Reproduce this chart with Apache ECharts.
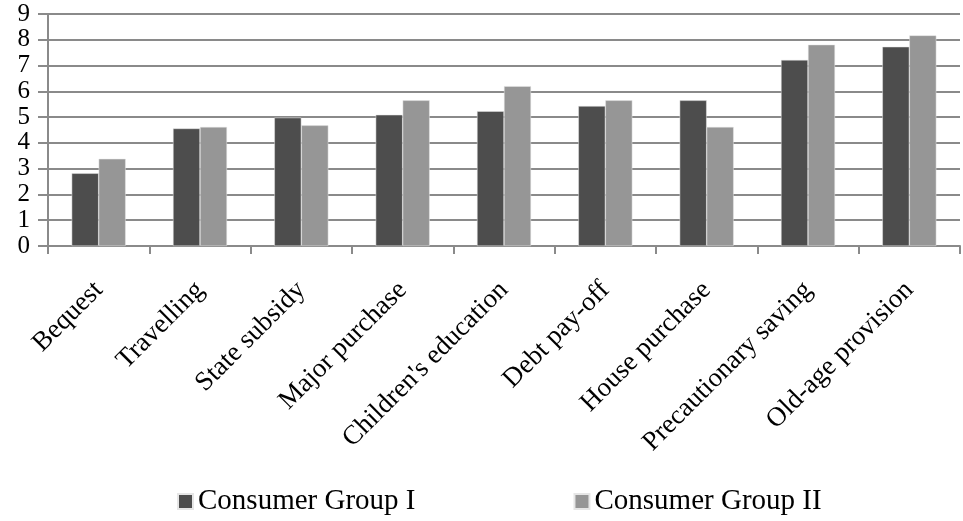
<!DOCTYPE html>
<html>
<head>
<meta charset="utf-8">
<script src="https://cdn.jsdelivr.net/npm/echarts@6/dist/echarts.min.js"></script>
<style>html,body{margin:0;padding:0;background:#fff;}#c{width:963px;height:521px;}</style>
</head>
<body>
<div id="c"></div>
<script>
const categories = ["Bequest","Travelling","State subsidy","Major purchase","Children's education","Debt pay-off","House purchase","Precautionary saving","Old-age provision"];
const groupI = [2.82, 4.56, 4.98, 5.09, 5.23, 5.43, 5.65, 7.22, 7.73];
const groupII = [3.38, 4.62, 4.68, 5.65, 6.2, 5.65, 4.62, 7.81, 8.17];
const seriesNames = ["Consumer Group I", "Consumer Group II"];
const yTicks = {min: 0, max: 9, interval: 1};

const font = "'Liberation Serif', 'Times New Roman', serif";
const chart = echarts.init(document.getElementById('c'), null, {renderer: 'canvas'});
chart.setOption({
  animation: false,
  backgroundColor: '#ffffff',
  textStyle: {fontFamily: font},
  grid: {left: 48, right: 3, top: 14, bottom: 275, containLabel: false},
  legend: {
    data: seriesNames,
    left: 172, top: 482,
    itemWidth: 15, itemHeight: 15, itemGap: 158,
    icon: 'rect',
    textStyle: {fontFamily: font, fontSize: 29, color: '#000'}
  },
  xAxis: {
    type: 'category',
    data: categories,
    axisLine: {lineStyle: {color: '#8a8a8a', width: 2}},
    axisTick: {show: true, length: 8, lineStyle: {color: '#8a8a8a', width: 2}},
    axisLabel: {rotate: 45, margin: 40, interval: 0, fontFamily: font, fontSize: 27, color: '#000'}
  },
  yAxis: {
    type: 'value',
    min: yTicks.min, max: yTicks.max, interval: yTicks.interval,
    axisLine: {show: true, lineStyle: {color: '#8a8a8a', width: 2}},
    axisTick: {show: true, length: 10, lineStyle: {color: '#8a8a8a', width: 2}},
    splitLine: {lineStyle: {color: '#8a8a8a', width: 2}},
    axisLabel: {margin: 18, showMinLabel: true, showMaxLabel: true, hideOverlap: false,
      fontFamily: font, fontSize: 25, color: '#000'}
  },
  series: [
    {name: seriesNames[0], type: 'bar', data: groupI, barWidth: 27, barGap: '0%',
     itemStyle: {color: '#4d4d4d', borderColor: '#e6e6e6', borderWidth: 0.5}},
    {name: seriesNames[1], type: 'bar', data: groupII, barWidth: 27, barGap: '0%',
     itemStyle: {color: '#969696', borderColor: '#e6e6e6', borderWidth: 0.5}}
  ]
});
</script>
</body>
</html>
